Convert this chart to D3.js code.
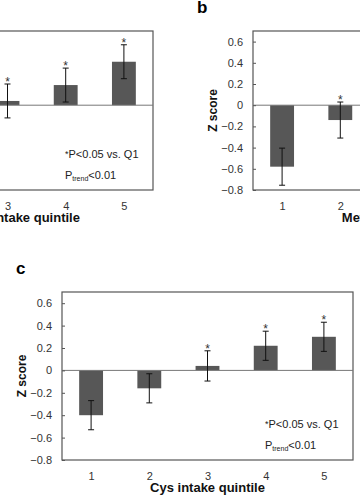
<!DOCTYPE html>
<html lang="en">
<head>
  <meta charset="UTF-8">
  <title>Z score by intake quintile</title>
  <style>
    body { margin: 0; background: #fff; font-family: "Liberation Sans", Arial, sans-serif; }
  </style>
  <script src="https://cdn.jsdelivr.net/npm/d3@7"></script>
</head>
<body>
<script>
  var quintiles = ["1", "2", "3", "4", "5"];
  var yTicks = [-0.8, -0.6, -0.4, -0.2, 0, 0.2, 0.4, 0.6];

  // panel a (only quintiles 3-5 fall inside the picture)
  var aMean = [null, null, 0.04, 0.19, 0.41];
  var aErr = [null, null, 0.16, 0.16, 0.16];
  var aStar = [false, false, true, true, true];

  // panel b (only quintiles 1-2 fall inside the picture)
  var bMean = [-0.58, -0.14, null, null, null];
  var bErr = [0.175, 0.17, null, null, null];
  var bStar = [false, true, false, false, false];

  // panel c
  var cMean = [-0.40, -0.16, 0.04, 0.22, 0.30];
  var cErr = [0.13, 0.13, 0.135, 0.13, 0.13];
  var cStar = [false, false, true, true, true];

  var svg = d3.select("body").append("svg")
    .attr("width", 360).attr("height", 497);

  function panel(opt) {
    var x = d3.scaleBand().domain(quintiles).range([opt.left, opt.left + 291]).paddingInner(0.59).paddingOuter(0.295);
    var xc = d3.scalePoint().domain(quintiles).range([opt.left, opt.left + 291]).padding(0.5);
    var y = d3.scaleLinear().domain([-0.8, 0.7]).range([opt.bottom, opt.top]);
    var g = svg.append("g");
    var rows = quintiles.map(function(q, i) {
      return { q: q, m: opt.mean[i], e: opt.err[i], s: opt.star[i] };
    }).filter(function(d) { return d.m !== null; });

    // panel letter
    if (opt.letter) {
      svg.append("text").attr("x", opt.letterX).attr("y", opt.top - 18)
        .attr("font-size", 17).attr("font-weight", "bold").text(opt.letter);
    }

    // box
    g.append("rect").attr("x", opt.left).attr("y", y(0.7))
      .attr("width", 291).attr("height", y(-0.8) - y(0.7))
      .attr("fill", "none").attr("stroke", "#555").attr("stroke-width", 1.2);

    // bars
    g.selectAll(".bar").data(rows).enter().append("rect")
      .attr("x", function(d) { return x(d.q); })
      .attr("width", x.bandwidth())
      .attr("y", function(d) { return y(Math.max(0, d.m)); })
      .attr("height", function(d) { return Math.abs(y(d.m) - y(0)); })
      .attr("fill", "#575757");

    // zero line
    g.append("line").attr("x1", opt.left).attr("x2", opt.left + 291)
      .attr("y1", y(0)).attr("y2", y(0)).attr("stroke", "#777").attr("stroke-width", 1);

    // error bars
    var eb = g.selectAll(".err").data(rows).enter().append("g")
      .attr("stroke", "#111").attr("stroke-width", 1);
    eb.append("line")
      .attr("x1", function(d) { return xc(d.q); }).attr("x2", function(d) { return xc(d.q); })
      .attr("y1", function(d) { return y(d.m + d.e); }).attr("y2", function(d) { return y(d.m - d.e); });
    eb.append("line")
      .attr("x1", function(d) { return xc(d.q) - 3; }).attr("x2", function(d) { return xc(d.q) + 3; })
      .attr("y1", function(d) { return y(d.m + d.e); }).attr("y2", function(d) { return y(d.m + d.e); });
    eb.append("line")
      .attr("x1", function(d) { return xc(d.q) - 3; }).attr("x2", function(d) { return xc(d.q) + 3; })
      .attr("y1", function(d) { return y(d.m - d.e); }).attr("y2", function(d) { return y(d.m - d.e); });

    // stars
    g.selectAll(".star").data(rows.filter(function(d) { return d.s; })).enter().append("text")
      .attr("x", function(d) { return xc(d.q); })
      .attr("y", function(d) { return y(d.m + d.e) + 2; })
      .attr("text-anchor", "middle").attr("font-size", 12).attr("fill", "#333").text("*");

    // y axis
    var ya = g.append("g").attr("transform", "translate(" + opt.left + ",0)")
      .call(d3.axisRight(y).tickValues(yTicks).tickSize(3).tickFormat(function(v) { return v === 0 ? "0" : d3.format(".1f")(v); }));
    ya.select(".domain").remove();
    ya.selectAll("line").attr("stroke", "#555");
    ya.selectAll("text").attr("x", -10).attr("text-anchor", "end")
      .attr("font-size", 11).attr("fill", "#333").attr("font-family", "Liberation Sans, Arial, sans-serif");

    // x tick labels
    var xa = g.append("g").attr("transform", "translate(0," + opt.bottom + ")")
      .call(d3.axisBottom(xc).tickSize(0).tickPadding(12));
    xa.select(".domain").remove();
    xa.selectAll("text").attr("font-size", 11).attr("fill", "#333")
      .attr("font-family", "Liberation Sans, Arial, sans-serif");

    // axis titles
    g.append("text").attr("x", opt.left + 145.5).attr("y", opt.bottom + 32)
      .attr("text-anchor", "middle").attr("font-size", 13).attr("font-weight", "bold").attr("fill", "#111")
      .text(opt.xTitle);
    g.append("text")
      .attr("transform", "translate(" + (opt.left - 36) + "," + ((opt.top + opt.bottom) / 2) + ")rotate(-90)")
      .attr("text-anchor", "middle").attr("font-size", 12).attr("font-weight", "bold").attr("fill", "#111")
      .text("Z score");

    // significance note
    var nx = opt.left + 291 - 88;
    var n1 = g.append("text").attr("x", nx).attr("y", opt.bottom - 32).attr("font-size", 11).attr("fill", "#222");
    n1.append("tspan").attr("font-size", 9).attr("dy", -1).text("*");
    n1.append("tspan").attr("dy", 1).text("P<0.05 vs. Q1");
    var n2 = g.append("text").attr("x", nx).attr("y", opt.bottom - 11).attr("font-size", 11).attr("fill", "#222");
    n2.append("tspan").text("P");
    n2.append("tspan").attr("font-size", 7).attr("dy", 2).text("trend");
    n2.append("tspan").attr("dy", -2).text("<0.01");
  }

  panel({ left: -138, top: 31, bottom: 190, mean: aMean, err: aErr, star: aStar,
          xTitle: "Met+Cys intake quintile", letter: null });
  panel({ left: 253, top: 31, bottom: 190, mean: bMean, err: bErr, star: bStar,
          xTitle: "Met intake quintile", letter: "b", letterX: 197 });
  panel({ left: 62, top: 292, bottom: 460, mean: cMean, err: cErr, star: cStar,
          xTitle: "Cys intake quintile", letter: "c", letterX: 16 });
</script>
</body>
</html>
